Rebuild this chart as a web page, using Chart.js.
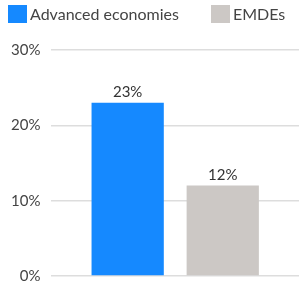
<!DOCTYPE html>
<html>
<head>
<meta charset="utf-8">
<script src="https://cdn.jsdelivr.net/npm/chart.js@4"></script>
<style>
  html, body { margin: 0; padding: 0; background: #fff; }
  #wrap { width: 299px; height: 296px; position: relative; }
  #leyenda { position: absolute; left: 8px; top: 4px; font: 16px Lato; color: #444; display: flex; }
  #leyenda span.item { display: flex; align-items: center; height: 19px; }
  #leyenda span.caja { width: 19px; height: 18px; margin-right: 3px; display: inline-block; }
</style>
</head>
<body>
<div id="wrap">
  <canvas id="grafica"></canvas>
  <div id="leyenda"></div>
</div>
<script>
// datos
const categorias = [''];
const seriesNombres = ['Advanced economies', 'EMDEs'];
const valoresAvanzadas = [23];
const valoresEMDEs = [12];
const ticksY = [0, 10, 20, 30];
const coloresSeries = ['#1589FF', '#CCC8C5'];

// etiquetas encima de las barras
const etiquetasBarras = {
  id: 'etiquetasBarras',
  afterDatasetsDraw(chart) {
    const ctx = chart.ctx;
    ctx.save();
    ctx.font = '15px Lato';
    ctx.fillStyle = '#333';
    ctx.textAlign = 'center';
    ctx.textBaseline = 'bottom';
    chart.data.datasets.forEach((ds, i) => {
      chart.getDatasetMeta(i).data.forEach((bar, j) => {
        ctx.fillText(ds.data[j] + '%', bar.x, bar.y - 3);
      });
    });
    ctx.restore();
  }
};

const ctx = document.getElementById('grafica').getContext('2d');

const grafica = new Chart(ctx, {
  type: 'bar',
  data: {
    labels: categorias,
    datasets: [{
      label: seriesNombres[0],
      data: valoresAvanzadas,
      backgroundColor: coloresSeries[0]
    }, {
      label: seriesNombres[1],
      data: valoresEMDEs,
      backgroundColor: coloresSeries[1]
    }]
  },
  options: {
    responsive: true,
    maintainAspectRatio: false,
    animation: false,
    categoryPercentage: 0.768,
    barPercentage: 0.76,
    layout: { padding: { left: 0, right: 0, top: 50, bottom: 5 } },
    plugins: {
      tooltip: { enabled: false },
      legend: { display: false }
    },
    scales: {
      x: {
        grid: { display: false },
        border: { display: false },
        ticks: { display: false }
      },
      y: {
        min: 0,
        max: 30,
        afterBuildTicks: (axis) => { axis.ticks = ticksY.map(v => ({ value: v })); },
        grid: { color: '#ddd', lineWidth: 1.5, drawTicks: false },
        border: { display: false },
        ticks: {
          padding: 11,
          color: '#444',
          font: { family: 'Lato', size: 15 },
          callback: (v) => v + '%'
        }
      }
    }
  },
  plugins: [etiquetasBarras]
});

// leyenda en HTML
const leyenda = document.getElementById('leyenda');
grafica.data.datasets.forEach((ds, i) => {
  const item = document.createElement('span');
  item.className = 'item';
  if (i > 0) item.style.marginLeft = '32px';
  item.innerHTML = '<span class="caja" style="background:' + ds.backgroundColor + '"></span>' + ds.label;
  leyenda.appendChild(item);
});
</script>
</body>
</html>
